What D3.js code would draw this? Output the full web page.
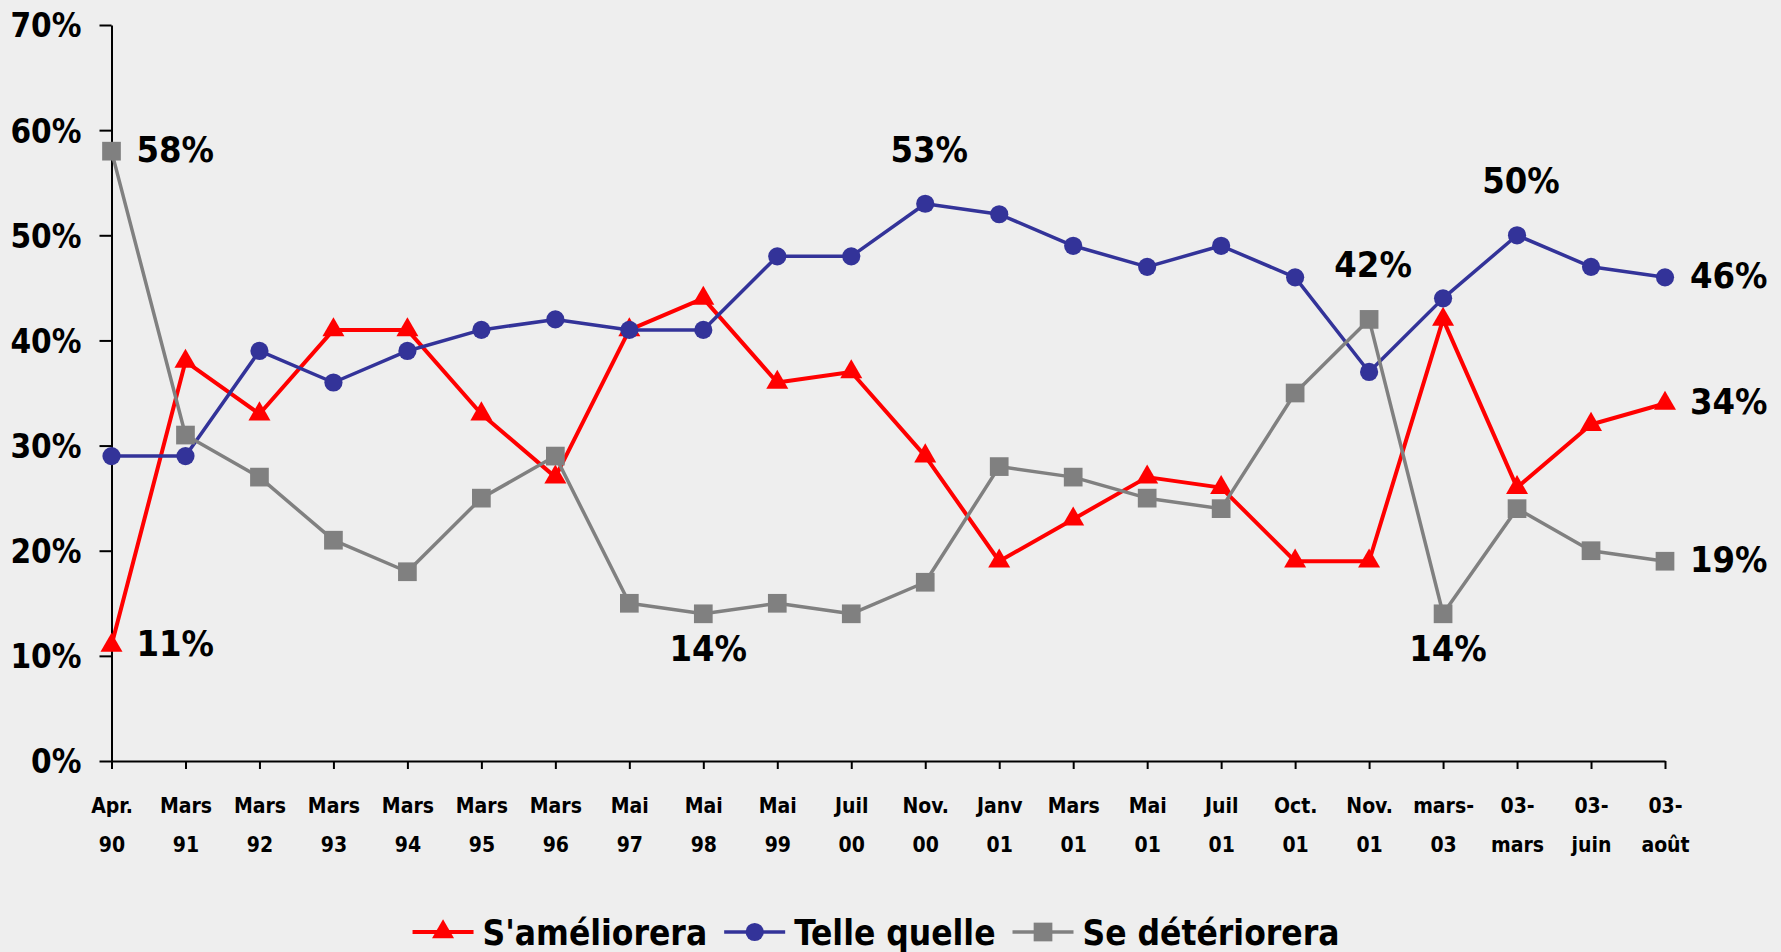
<!DOCTYPE html>
<html>
<head>
<meta charset="utf-8">
<script src="https://cdn.jsdelivr.net/npm/d3@7/dist/d3.min.js"></script>
<style>
	body { margin: 0; background: #eeeeee; }
	svg text { font-family: "DejaVu Sans Condensed", "DejaVu Sans", sans-serif; font-weight: bold; font-stretch: condensed; fill: #000; }
</style>
</head>
<body>
<div id="chart"></div>
<script>

///////////////////////////////////////////////////////////////////////////
///////////////////////////////// Data ////////////////////////////////////
var categories = ["Apr. 90", "Mars 91", "Mars 92", "Mars 93", "Mars 94", "Mars 95", "Mars 96",
	"Mai 97", "Mai 98", "Mai 99", "Juil 00", "Nov. 00", "Janv 01", "Mars 01", "Mai 01",
	"Juil 01", "Oct. 01", "Nov. 01", "mars- 03", "03- mars", "03- juin", "03- août"];

var ameliorera  = [11, 38, 33, 41, 41, 33, 27, 41, 44, 36, 37, 29, 19, 23, 27, 26, 19, 19, 42, 26, 32, 34];
var telleQuelle = [29, 29, 39, 36, 39, 41, 42, 41, 41, 48, 48, 53, 52, 49, 47, 49, 46, 37, 44, 50, 47, 46];
var deteriorera = [58, 31, 27, 21, 18, 25, 29, 15, 14, 15, 14, 17, 28, 27, 25, 24, 35, 42, 14, 24, 20, 19];

var yTicks = [0, 10, 20, 30, 40, 50, 60, 70];

//which points carry a value label: [series, index]
var labelPoints = [["det", 0], ["ame", 0], ["det", 8], ["tel", 11], ["det", 17], ["det", 18],
	["tel", 19], ["tel", 21], ["ame", 21], ["det", 21]];

///////////////////////////////////////////////////////////////////////////
//////////////////////////////// Set up ///////////////////////////////////
var width = 1781, height = 952;

var svg = d3.select("#chart").append("svg")
	.attr("width", width)
	.attr("height", height);

svg.append("rect")
	.attr("width", width).attr("height", height)
	.attr("fill", "#eeeeee");

var x = d3.scalePoint().domain(categories).range([111.5, 1665]);
var y = d3.scaleLinear().domain([0, 70]).range([761, 25]);

var series = [
	{key: "ame", name: "S'améliorera", values: ameliorera, color: "#ff0000", width: 4, symbol: d3.symbolTriangle, size: 210},
	{key: "tel", name: "Telle quelle", values: telleQuelle, color: "#333399", width: 3.5, symbol: d3.symbolCircle, size: 260},
	{key: "det", name: "Se détériorera", values: deteriorera, color: "#808080", width: 3.5, symbol: d3.symbolSquare, size: 350}
];
var byKey = {};
series.forEach(function(s) { byKey[s.key] = s; });

///////////////////////////////////////////////////////////////////////////
///////////////////////////////// Axes ////////////////////////////////////
var yAxis = svg.append("g")
	.attr("transform", "translate(" + x(categories[0]) + ",0)")
	.call(d3.axisLeft(y).tickValues(yTicks).tickSize(12).tickSizeOuter(0).tickPadding(18)
		.tickFormat(function(d) { return d + "%"; }));
yAxis.select(".domain").attr("stroke", "#000").attr("stroke-width", 2);
yAxis.selectAll(".tick line").attr("stroke", "#000").attr("stroke-width", 2);
yAxis.selectAll(".tick text")
	.style("font-size", "33px")
	.attr("dy", "0.36em");

var xAxis = svg.append("g")
	.attr("transform", "translate(0," + y(0) + ")")
	.call(d3.axisBottom(x).tickSize(8).tickSizeOuter(0).tickFormat(""));
xAxis.select(".domain").attr("stroke", "#000").attr("stroke-width", 2);
xAxis.selectAll(".tick line").attr("stroke", "#000").attr("stroke-width", 2);

xAxis.selectAll(".tick").append("text")
	.style("font-size", "21px")
	.attr("text-anchor", "middle")
	.selectAll("tspan")
	.data(function(d) { return d.split(" "); })
	.enter().append("tspan")
	.attr("x", 0)
	.attr("y", function(d, i) { return i === 0 ? 52 : 91; })
	.text(function(d) { return d; });

///////////////////////////////////////////////////////////////////////////
//////////////////////////////// Lines ////////////////////////////////////
var line = d3.line()
	.x(function(d, i) { return x(categories[i]); })
	.y(function(d) { return y(d); });

series.forEach(function(s) {
	svg.append("path")
		.datum(s.values)
		.attr("fill", "none")
		.attr("stroke", s.color)
		.attr("stroke-width", s.width)
		.attr("stroke-linejoin", "round")
		.attr("d", line);

	svg.append("g").selectAll("path")
		.data(s.values)
		.enter().append("path")
		.attr("transform", function(d, i) { return "translate(" + x(categories[i]) + "," + y(d) + ")"; })
		.attr("d", d3.symbol().type(s.symbol).size(s.size))
		.attr("fill", s.color);
});

///////////////////////////////////////////////////////////////////////////
///////////////////////////// Value labels ////////////////////////////////
svg.append("g").selectAll("text")
	.data(labelPoints)
	.enter().append("text")
	.style("font-size", "36px")
	.each(function(d) {
		var v = byKey[d[0]].values[d[1]],
			px = x(categories[d[1]]),
			py = y(v),
			t = d3.select(this).text(v + "%");
		if (d[1] === 0 || d[1] === categories.length - 1) {
			t.attr("x", px + 25).attr("y", py).attr("dy", "0.3em").attr("text-anchor", "start");
		} else if (v < 20) {
			t.attr("x", px + 5).attr("y", py + 34).attr("dy", "0.36em").attr("text-anchor", "middle");
		} else {
			t.attr("x", px + 4).attr("y", py - 55).attr("dy", "0.36em").attr("text-anchor", "middle");
		}
	});

///////////////////////////////////////////////////////////////////////////
//////////////////////////////// Legend ///////////////////////////////////
var legend = svg.append("g");
var lx = 0;
series.forEach(function(s) {
	var g = legend.append("g").attr("transform", "translate(" + lx + ",0)");
	g.append("line")
		.attr("x1", 0).attr("x2", 61)
		.attr("stroke", s.color).attr("stroke-width", s.width);
	g.append("path")
		.attr("transform", "translate(30.5,0)")
		.attr("d", d3.symbol().type(s.symbol).size(s.size))
		.attr("fill", s.color);
	var t = g.append("text")
		.attr("x", 70).attr("dy", "0.36em")
		.style("font-size", "35px")
		.text(s.name);
	lx += 70 + t.node().getComputedTextLength() + 17;
});
lx -= 17;
legend.attr("transform", "translate(" + (876 - lx / 2) + ",932)");

</script>
</body>
</html>
